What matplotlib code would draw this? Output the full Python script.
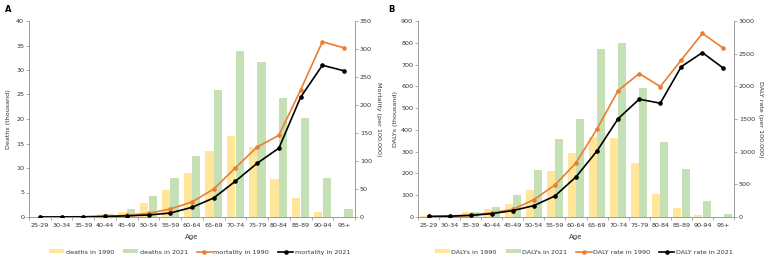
import numpy as np
import matplotlib
matplotlib.use('Agg')
import matplotlib.pyplot as plt
from matplotlib.ticker import FixedLocator, NullFormatter

plt.rcParams['font.family'] = 'DejaVu Sans'

ages = ['25-29', '30-34', '35-39', '40-44', '45-49', '50-54', '55-59', '60-64',
        '65-69', '70-74', '75-79', '80-84', '85-89', '90-94', '95+']

# Panel A: deaths (thousand) and mortality (per 100,000)
deaths_1990 = [0.02, 0.05, 0.2, 0.6, 1.1, 2.9, 5.6, 9.0, 13.5, 16.5, 14.2, 7.8, 3.9, 1.0, 0.1]
deaths_2021 = [0.02, 0.05, 0.15, 0.6, 1.7, 4.2, 8.0, 12.5, 25.9, 33.9, 31.7, 24.3, 20.3, 8.0, 1.7]
mort_1990 = [0.1, 0.2, 0.5, 1.3, 3.0, 6.5, 14.3, 26.8, 50, 88, 125, 146, 227, 313, 302]
mort_2021 = [0.05, 0.1, 0.3, 0.9, 2.0, 3.6, 7.1, 17.3, 34, 64, 96, 123, 214, 271, 261]

# Panel B: DALYs (thousand) and DALY rate (per 100,000)
dalys_1990 = [3, 9, 22, 38, 60, 126, 212, 292, 368, 364, 250, 104, 40, 9, 0.5]
dalys_2021 = [5, 11, 25, 46, 102, 215, 357, 448, 772, 798, 594, 346, 221, 75, 15]
rate_1990 = [10, 15, 30, 65, 115, 266, 490, 828, 1350, 1935, 2195, 1996, 2404, 2811, 2582]
rate_2021 = [8, 12, 24, 51, 98, 174, 322, 614, 1012, 1505, 1803, 1742, 2302, 2516, 2277]

yellow = '#FFE699'
green = '#C5E0B4'
orange = '#ED7D31'
axis_grey = '#8C8C8C'
txt = '#333333'
fs = 4.6

fig = plt.figure(figsize=(7.67, 2.6), dpi=100)
W, H = 767, 260


def panel(x0, x1, bars1, bars2, line1, line2, ylim1, step1, ylim2, step2,
          names):
    ax = fig.add_axes([x0 / W, 1 - 217 / H, (x1 - x0) / W, 196 / H])
    x = np.arange(len(ages))
    w = 0.38
    ax.bar(x - 0.2, bars1, width=w, color=yellow, label=names[0])
    ax.bar(x + 0.2, bars2, width=w, color=green, label=names[1])
    ax.set_xlim(-0.5, len(ages) - 0.5)
    ax.set_ylim(0, ylim1)
    ax.set_yticks(np.arange(0, ylim1 + 1e-9, step1))
    ax.set_xticks(x)
    ax.set_xticklabels(ages)
    ax.xaxis.set_minor_locator(FixedLocator(np.arange(-0.5, len(ages), 1)))
    ax.xaxis.set_minor_formatter(NullFormatter())

    ax2 = ax.twinx()
    ax2.plot(x, line1, color=orange, lw=1.2, marker='o', ms=2.3,
             label=names[2])
    ax2.plot(x, line2, color='black', lw=1.2, marker='o', ms=2.3,
             label=names[3])
    ax2.set_ylim(0, ylim2)
    ax2.set_yticks(np.arange(0, ylim2 + 1e-9, step2))

    for a in (ax, ax2):
        a.spines['top'].set_visible(False)
        for s in ('left', 'right', 'bottom'):
            a.spines[s].set_color(axis_grey)
            a.spines[s].set_linewidth(0.6)
        a.tick_params(axis='both', labelsize=fs, colors=txt,
                      length=2, width=0.5, pad=1.5)
        a.tick_params(axis='both', color=axis_grey)
    ax.spines['right'].set_visible(False)
    ax2.spines['left'].set_visible(False)
    ax2.spines['bottom'].set_visible(False)
    ax.tick_params(axis='x', which='major', length=0, pad=4)
    ax.tick_params(axis='x', which='minor', length=2, width=0.5,
                   color=axis_grey)

    fig.text((x0 + x1) / 2 / W, 1 - 237 / H, 'Age', ha='center',
             va='center', fontsize=fs + 0.4, color=txt)

    h1, l1 = ax.get_legend_handles_labels()
    h2, l2 = ax2.get_legend_handles_labels()
    fig.legend(h1 + h2, l1 + l2, loc='center',
               bbox_to_anchor=((x0 + x1) / 2 / W + 0.01, 1 - 252 / H),
               ncol=4, frameon=False, fontsize=fs, handlelength=2.4,
               handleheight=0.6, columnspacing=1.4, handletextpad=0.2,
               labelcolor=txt)
    return ax, ax2


panel(29, 355, deaths_1990, deaths_2021, mort_1990, mort_2021, 40, 5, 350, 50,
      ['deaths in 1990', 'deaths in 2021', 'mortality in 1990',
       'mortality in 2021'])
panel(418, 734, dalys_1990, dalys_2021, rate_1990, rate_2021, 900, 100, 3000,
      500, ['DALYs in 1990', 'DALYs in 2021', 'DALY rate in 1990',
            'DALY rate in 2021'])

fig.text(9 / W, 1 - 119 / H, 'Deaths (thousand)', rotation=90, ha='center',
         va='center', fontsize=fs, color=txt)
fig.text(378 / W, 1 - 119 / H, 'Mortality (per 100,000)', rotation=270,
         ha='center', va='center', fontsize=fs, color=txt)
fig.text(396 / W, 1 - 119 / H, 'DALYs (thousand)', rotation=90, ha='center',
         va='center', fontsize=fs, color=txt)
fig.text(761 / W, 1 - 119 / H, 'DALY rate (per 100,000)', rotation=270,
         ha='center', va='center', fontsize=fs, color=txt)

fig.text(5 / W, 1 - 9 / H, 'A', fontsize=6, fontweight='bold', va='center')
fig.text(388 / W, 1 - 9 / H, 'B', fontsize=6, fontweight='bold', va='center')

fig.savefig('out.png', dpi=100)
